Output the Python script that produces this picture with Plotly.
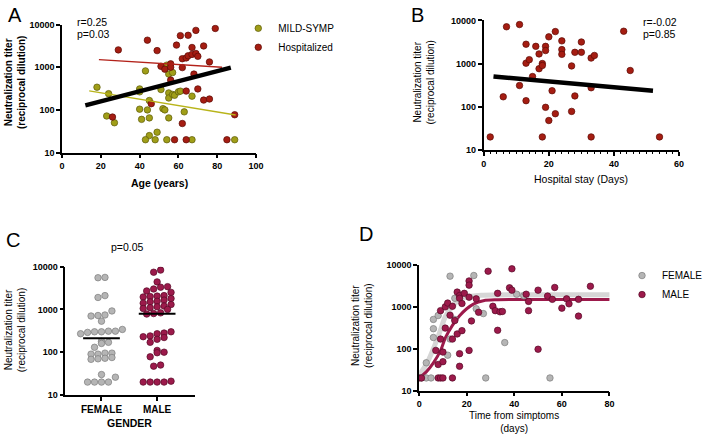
import numpy as np
import plotly.graph_objects as go

W, H = 708, 441
FONT = "Arial, Liberation Sans, sans-serif"


def px(x):
    return x / W


def py(y):
    return 1 - y / H


# ---------------- Panel A: Age vs titer ----------------
a_mild_age = [18, 24, 23, 27, 43, 40, 40, 40, 44, 45, 41, 45, 45, 43, 48, 49, 51, 52,
              53, 55, 54, 54, 55, 57, 55, 55, 57, 58, 60, 61, 63, 67, 67, 89]
a_mild_titer = [340, 240, 72, 50, 820, 310, 265, 104, 100, 166, 60, 65, 25, 20, 20, 30, 300, 107,
                100, 65, 20, 1120, 690, 750, 250, 190, 230, 220, 265, 275, 90, 210, 20, 20]
a_hosp_age = [29, 44, 49, 59, 61, 65, 69, 79, 67, 73, 51, 53, 56, 56, 62, 64, 65, 67,
              69, 70, 76, 62, 68, 56, 70, 64, 73, 76, 46, 26, 62, 58, 64, 85, 89]
a_hosp_titer = [2550, 4300, 2450, 3300, 5500, 5600, 7300, 8100, 2900, 3150, 1050, 900, 1200, 1000,
                1580, 1650, 1850, 2000, 2100, 1800, 1330, 980, 690, 500, 310, 276, 170, 180, 140,
                68, 48, 20, 20, 20, 77]
a_fit_all_age, a_fit_all_titer = [12, 87], [128, 980]
a_fit_mild_age, a_fit_mild_titer = [14, 89.5], [280, 76]
a_fit_hosp_age, a_fit_hosp_titer = [19, 82.5], [1500, 1000]

# ---------------- Panel B: Hospital stay vs titer ----------------
b_stay = [2, 7, 11, 6, 11, 13, 13, 14, 13, 15, 16, 17, 17, 18, 18, 19, 19, 19, 18, 20,
          20, 22, 22, 21, 24, 24, 24, 27, 27, 28, 28, 30, 30, 33, 34, 33, 33, 43, 45, 54]
b_titer = [20, 7100, 8000, 170, 310, 2800, 1020, 1230, 138, 500, 2500, 1670, 760, 1000, 900,
           2500, 2000, 97, 20, 4150, 48, 5500, 69, 235, 3350, 2100, 1630, 880, 78, 1820, 178,
           3150, 1820, 1340, 1540, 275, 20, 5600, 690, 20]
b_fit_stay, b_fit_titer = [3, 52], [500, 235]

# ---------------- Panel C: Gender ----------------
c_categories = ["FEMALE", "MALE"]
c_female = [5600, 5500, 2100, 1900, 920, 740, 720, 700, 530, 340, 310, 310, 300, 300, 290, 270,
            180, 170, 160, 130, 95, 95, 90, 90, 75, 72, 70, 68, 30, 26, 20, 20, 20, 20]
c_male = [8300, 7400, 4400, 3400, 3300, 3000, 2700, 2500, 2100, 2050, 2000, 1950, 1800, 1650,
          1550, 1500, 1400, 1300, 1200, 1150, 1100, 1050, 1000, 830, 800, 780, 300, 280, 270,
          240, 230, 220, 200, 170, 110, 100, 97, 78, 50, 47, 21, 20, 20, 20, 20]
c_median = [213, 790]

# ---------------- Panel D: Time from symptoms ----------------
d_fem_day = [1, 3, 5, 3, 6, 8, 6, 6, 13, 23, 15, 15, 13, 12, 24, 27, 28, 36, 41, 44, 55]
d_fem_titer = [20, 20, 20, 46, 500, 620, 300, 185, 5400, 5600, 1600, 500, 170, 70, 900, 690,
               20, 140, 2000, 1850, 20]
d_male_day = [0, 1, 8, 9, 10, 14, 7, 8, 10, 10, 9, 11, 9, 11, 12, 13, 14, 15, 14, 16, 16, 17,
              17, 18, 19, 18, 17, 17, 21, 21, 21, 22, 21, 24, 25, 29, 31, 32, 33, 33, 34, 35,
              38, 39, 39, 45, 46, 46, 50, 50, 54, 56, 57, 60, 62, 63, 67, 67, 72]
d_male_titer = [20, 20, 20, 20, 20, 20, 91, 42, 49, 83, 170, 310, 810, 1000, 1230, 630, 1030,
                470, 170, 225, 2250, 1860, 1600, 1200, 2100, 270, 76, 38, 4150, 3300, 1700, 460,
                91, 1550, 740, 7100, 1030, 810, 2100, 275, 760, 775, 2850, 8100, 2500, 2000, 1350,
                810, 2500, 97, 1810, 1510, 2900, 930, 1550, 1180, 1510, 600, 3100]
d_fit_fem_day = [0, 3, 6, 9, 11, 14, 17, 22, 27, 40, 82]
d_fit_fem_titer = [24, 42, 100, 280, 580, 1030, 1500, 1800, 1900, 1950, 1950]
d_fit_male_day = [0, 3, 6, 9, 11, 14, 17, 20, 23, 27, 33, 40, 82]
d_fit_male_titer = [20, 28, 46, 90, 180, 360, 610, 900, 1180, 1400, 1480, 1500, 1500]

OLIVE, OLIVE_D = "#a09e18", "#5c5a08"
RED, RED_D = "#a51d12", "#5c0b06"
GRAY, GRAY_D = "#b5b5b5", "#7d7d7d"
MAROON, MAROON_D = "#9c1a4b", "#560a27"
MS = 6.5


def mk(color, edge):
    return dict(color=color, size=MS, line=dict(color=edge, width=0.7))


def swarm_offsets(values, row_thr=0.12, step=0.125):
    logs = np.log10(np.asarray(values, dtype=float))
    order = np.argsort(logs)
    offs = np.zeros(len(values))
    rows, cur = [], [order[0]]
    for i in order[1:]:
        if logs[i] - logs[cur[0]] < row_thr:
            cur.append(i)
        else:
            rows.append(cur)
            cur = [i]
    rows.append(cur)
    for r in rows:
        n = len(r)
        for k, i in enumerate(r):
            offs[i] = (k - (n - 1) / 2) * step
    return offs


fig = go.Figure()

# Panel A
fig.add_trace(go.Scatter(x=a_mild_age, y=a_mild_titer, mode="markers", name="MILD-SYMP",
                         marker=mk(OLIVE, OLIVE_D), xaxis="x", yaxis="y", legend="legend"))
fig.add_trace(go.Scatter(x=a_hosp_age, y=a_hosp_titer, mode="markers", name="Hospitalized",
                         marker=mk(RED, RED_D), xaxis="x", yaxis="y", legend="legend"))
fig.add_trace(go.Scatter(x=a_fit_mild_age, y=a_fit_mild_titer, mode="lines", showlegend=False,
                         line=dict(color="#b8b41a", width=1.3), xaxis="x", yaxis="y"))
fig.add_trace(go.Scatter(x=a_fit_hosp_age, y=a_fit_hosp_titer, mode="lines", showlegend=False,
                         line=dict(color="#b3221a", width=1.3), xaxis="x", yaxis="y"))
fig.add_trace(go.Scatter(x=a_fit_all_age, y=a_fit_all_titer, mode="lines", showlegend=False,
                         line=dict(color="black", width=4.5), xaxis="x", yaxis="y"))

# Panel B
fig.add_trace(go.Scatter(x=b_stay, y=b_titer, mode="markers", showlegend=False,
                         marker=mk(RED, RED_D), xaxis="x2", yaxis="y2"))
fig.add_trace(go.Scatter(x=b_fit_stay, y=b_fit_titer, mode="lines", showlegend=False,
                         line=dict(color="black", width=4.5), xaxis="x2", yaxis="y2"))

# Panel C
for ci, (vals, col, edge) in enumerate([(c_female, GRAY, GRAY_D), (c_male, MAROON, MAROON_D)]):
    xs = ci + swarm_offsets(vals)
    fig.add_trace(go.Scatter(x=xs, y=vals, mode="markers", showlegend=False,
                             marker=mk(col, edge), xaxis="x3", yaxis="y3"))
    fig.add_trace(go.Scatter(x=[ci - 0.33, ci + 0.33], y=[c_median[ci]] * 2, mode="lines",
                             showlegend=False, line=dict(color="black", width=2),
                             xaxis="x3", yaxis="y3"))

# Panel D
fig.add_trace(go.Scatter(x=d_fit_fem_day, y=d_fit_fem_titer, mode="lines", showlegend=False,
                         line=dict(color="#d6d6d6", width=5, shape="spline"), xaxis="x4", yaxis="y4"))
fig.add_trace(go.Scatter(x=d_fit_male_day, y=d_fit_male_titer, mode="lines", showlegend=False,
                         line=dict(color=MAROON, width=3, shape="spline"), xaxis="x4", yaxis="y4"))
fig.add_trace(go.Scatter(x=d_fem_day, y=d_fem_titer, mode="markers", name="FEMALE",
                         marker=mk(GRAY, GRAY_D), xaxis="x4", yaxis="y4", legend="legend2"))
fig.add_trace(go.Scatter(x=d_male_day, y=d_male_titer, mode="markers", name="MALE",
                         marker=mk(MAROON, MAROON_D), xaxis="x4", yaxis="y4", legend="legend2"))

tick_font = dict(family=FONT, size=9, color="black")
ax_common = dict(showline=True, linecolor="black", linewidth=1.6, ticks="outside",
                 ticklen=4, tickwidth=1.5, tickcolor="black", showgrid=False, zeroline=False,
                 tickfont=tick_font, fixedrange=True)
log_vals = [10, 100, 1000, 10000]
log_text = ["<b>%d</b>" % v for v in log_vals]


def yax(dom, anchor):
    return dict(ax_common, type="log", range=[1, 4], domain=dom, anchor=anchor,
                tickvals=log_vals, ticktext=log_text)


def xax(dom, anchor, rng, vals, **kw):
    return dict(ax_common, range=rng, domain=dom, anchor=anchor, tickvals=vals,
                ticktext=["<b>%g</b>" % v for v in vals], **kw)


fig.update_layout(
    width=W, height=H, margin=dict(l=0, r=0, t=0, b=0),
    paper_bgcolor="white", plot_bgcolor="white",
    font=dict(family=FONT, color="black", size=10),
    xaxis=xax([px(60), px(257)], "y", [0, 100], [0, 20, 40, 60, 80, 100]),
    yaxis=yax([py(151), py(20)], "x"),
    xaxis2=xax([px(488.3), px(686.7)], "y2", [0, 60], [0, 20, 40, 60],
               minor=dict(dtick=2, ticks="outside", ticklen=2.5, tickwidth=1.2, tickcolor="black")),
    yaxis2=yax([py(148.3), py(15.7)], "x2"),
    xaxis3=dict(ax_common, range=[-0.65, 1.68], domain=[px(63.3), px(195)], anchor="y3",
                tickvals=[0, 1], ticktext=["<b>%s</b>" % c for c in c_categories],
                tickfont=dict(family=FONT, size=10, color="black")),
    yaxis3=yax([py(399), py(267.7)], "x3"),
    xaxis4=xax([px(422.7), px(616)], "y4", [0, 80], [0, 20, 40, 60, 80]),
    yaxis4=yax([py(394.5), py(266)], "x4"),
    legend=dict(x=px(239), y=py(9), xanchor="left", yanchor="top", bgcolor="rgba(0,0,0,0)",
                font=dict(family=FONT, size=10), itemwidth=30, tracegroupgap=0),
    legend2=dict(x=px(629), y=py(262), xanchor="left", yanchor="top", bgcolor="rgba(0,0,0,0)",
                 font=dict(family=FONT, size=10), itemwidth=30, tracegroupgap=0),
)

ann = []


def text(x, y, s, size=10, bold=False, angle=0, xanchor="center"):
    ann.append(dict(x=px(x), y=py(y), xref="paper", yref="paper", text=("<b>%s</b>" % s) if bold else s,
                    showarrow=False, textangle=angle, xanchor=xanchor, yanchor="middle",
                    font=dict(family=FONT, size=size, color="black")))


# panel letters
text(12, 10, "A", size=20)
text(421, 10, "B", size=20)
text(10, 240, "C", size=20)
text(369, 234, "D", size=20)
# stats
text(73, 17, "r=0.25", size=10.5, xanchor="left")
text(73, 30, "p=0.03", size=10.5, xanchor="left")
text(648, 17, "r=-0.02", size=10.5, xanchor="left")
text(648, 30, "p=0.85", size=10.5, xanchor="left")
text(126, 248, "p=0.05", size=10.5)
# y titles
ytitle = "Neutralization titer<br>(reciprocal dilution)"
text(12, 79, ytitle, size=10, bold=True, angle=-90)
text(428, 79, ytitle, size=10, angle=-90)
text(13, 333, ytitle, size=10, angle=-90)
text(364, 328, ytitle, size=10, angle=-90)
# x titles
text(158.7, 182, "Age (years)", size=10.5, bold=True)
text(586.7, 178, "Hospital stay (Days)", size=10.5)
text(129, 428, "GENDER", size=10.5, bold=True)
text(519, 427, "Time from simptoms<br>(days)", size=10)
fig.update_layout(annotations=ann)

# remove the browser's default 8px body margin so the figure sits at the page origin
fig.write_html("out.html", config={"displayModeBar": False},
               post_script="document.body.style.margin='0px';")
